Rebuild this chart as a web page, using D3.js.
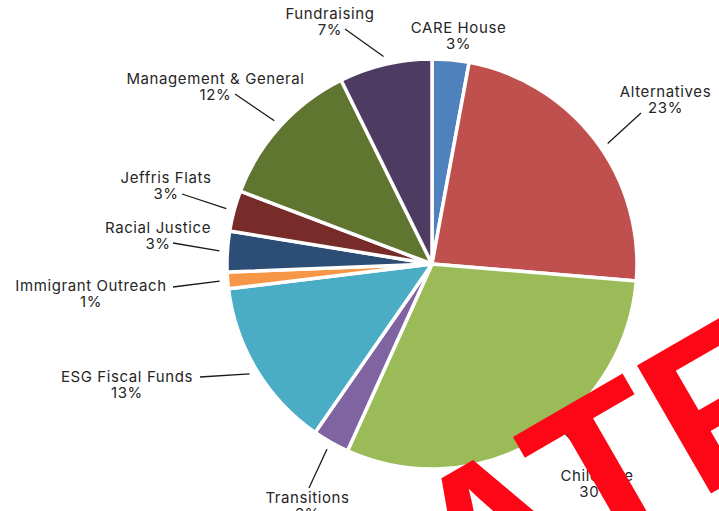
<!DOCTYPE html>
<html>
<head>
<meta charset="utf-8">
<script src="https://cdn.jsdelivr.net/npm/d3@7"></script>
<style>
  html, body { margin: 0; padding: 0; background: #fff; }
  svg { display: block; }
</style>
</head>
<body>
<div id="chart"></div>
<script>
// ---- data ----
const categories = ["CARE House", "Alternatives", "Childcare", "Transitions", "ESG Fiscal Funds",
  "Immigrant Outreach", "Racial Justice", "Jeffris Flats", "Management & General", "Fundraising"];
const values = [2.9, 23.4, 30.4, 2.9, 13.4, 1.3, 3.2, 3.2, 11.9, 7.3];
const colors = ["#4F81BD", "#C0504D", "#9BBB59", "#8064A2", "#4BACC6",
  "#F79646", "#2C4D75", "#772C2A", "#5F7530", "#4D3B62"];
const watermarkText = "ATF";

// ---- layout (label placement, not data) ----
const labelLayout = [
  { x: 458.5, y: 33 },
  { x: 665.5, y: 97, lx: 641, ly: 113, at: 0.535 },
  { x: 597, y: 481, lx: 586, ly: 457, at: 0.43 },
  { x: 307.5, y: 503, lx: 309, ly: 488 },
  { x: 127, y: 382, lx: 200, ly: 377 },
  { x: 91, y: 291, lx: 173, ly: 287 },
  { x: 158, y: 232.5, lx: 173, ly: 243 },
  { x: 166, y: 183, lx: 182, ly: 194 },
  { x: 215.5, y: 84, lx: 235, ly: 94 },
  { x: 330, y: 19, lx: 345, ly: 29 }
];

const W = 719, H = 511;
const cx = 432, cy = 264, R = 205;

const svg = d3.select("#chart").append("svg").attr("width", W).attr("height", H);

const total = d3.sum(values);
const data = categories.map((c, i) => ({ name: c, value: values[i], color: colors[i], lay: labelLayout[i] }));

const pie = d3.pie().value(d => d.value).sort(null).startAngle(0).endAngle(2 * Math.PI);
const arcs = pie(data);
const arc = d3.arc().innerRadius(0).outerRadius(R);

const g = svg.append("g").attr("transform", `translate(${cx},${cy})`);
g.selectAll("path.slice").data(arcs).join("path")
  .attr("class", "slice")
  .attr("d", arc)
  .attr("fill", d => d.data.color)
  .attr("stroke", "#fff")
  .attr("stroke-width", 3.5)
  .attr("stroke-linejoin", "round");

// leader lines
const lineR = R + 8;
arcs.forEach(a => {
  const L = a.data.lay;
  if (L.lx === undefined) return;
  const t = L.at === undefined ? 0.5 : L.at;
  const ang = a.startAngle + (a.endAngle - a.startAngle) * t;
  const px = cx + lineR * Math.sin(ang), py = cy - lineR * Math.cos(ang);
  svg.append("line")
    .attr("x1", L.lx).attr("y1", L.ly).attr("x2", px).attr("y2", py)
    .attr("stroke", "#1a1a1a").attr("stroke-width", 1.3);
});

// labels
const fmt = v => Math.round(v / total * 100) + "%";
arcs.forEach(a => {
  const L = a.data.lay;
  const t = svg.append("text")
    .attr("x", L.x).attr("y", L.y)
    .attr("text-anchor", "middle")
    .attr("font-family", "Inter, 'Open Sans', sans-serif")
    .attr("font-size", 15)
    .attr("letter-spacing", 0.6)
    .attr("fill", "#262626");
  t.append("tspan").attr("x", L.x).attr("y", L.y).text(a.data.name);
  t.append("tspan").attr("x", L.x).attr("y", L.y + 16).text(fmt(a.data.value));
});

// watermark
svg.append("text")
  .attr("transform", "translate(464,636) rotate(-30)")
  .attr("font-family", "'Liberation Sans', Arial, sans-serif")
  .attr("font-weight", "bold")
  .attr("font-size", 215)
  .attr("fill", "#FD0716")
  .text(watermarkText);
</script>
</body>
</html>
